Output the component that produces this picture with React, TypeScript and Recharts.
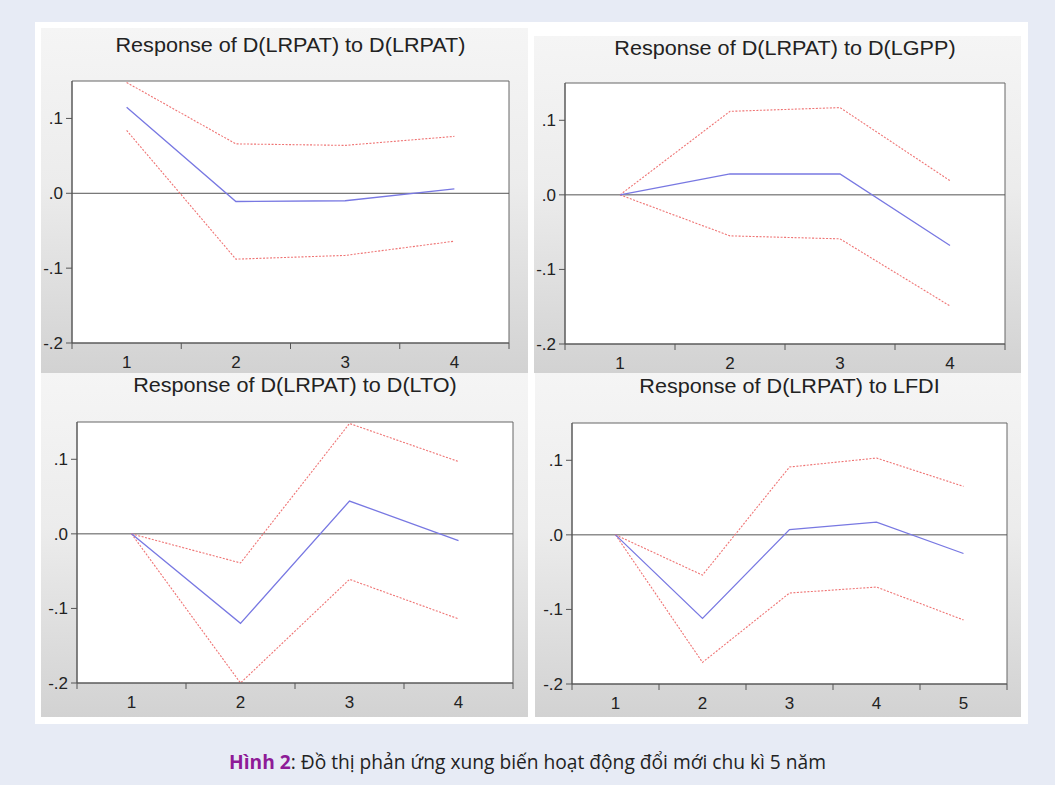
import React from 'react';
import { LineChart, Line, XAxis, YAxis, ReferenceLine, ReferenceArea, CartesianGrid } from 'recharts';

const FONT = '"Liberation Sans", Arial, sans-serif';

// periods on the x axis
const steps4 = [1, 2, 3, 4];
const steps5 = [1, 2, 3, 4, 5];

// y axis ticks as EViews prints them
const yTicks = [-0.2, -0.1, 0, 0.1];
const yTickLabels = ['-.2', '-.1', '.0', '.1'];

// Response of D(LRPAT) to D(LRPAT)
const lrpatResp = [0.115, -0.011, -0.010, 0.006];
const lrpatUpper = [0.148, 0.066, 0.064, 0.076];
const lrpatLower = [0.084, -0.088, -0.083, -0.064];

// Response of D(LRPAT) to D(LGPP)
const lgppResp = [0, 0.028, 0.028, -0.068];
const lgppUpper = [0, 0.112, 0.117, 0.019];
const lgppLower = [0, -0.055, -0.059, -0.149];

// Response of D(LRPAT) to D(LTO)
const ltoResp = [0, -0.12, 0.044, -0.009];
const ltoUpper = [0, -0.039, 0.148, 0.097];
const ltoLower = [0, -0.2, -0.061, -0.114];

// Response of D(LRPAT) to LFDI
const lfdiResp = [0, -0.112, 0.007, 0.017, -0.025];
const lfdiUpper = [0, -0.054, 0.091, 0.103, 0.065];
const lfdiLower = [0, -0.171, -0.078, -0.070, -0.114];

function XTick(props: any) {
  const { x, y, payload } = props;
  const v = payload.value;
  if (Number.isInteger(v)) {
    return (
      <text x={x} y={y + 19} textAnchor="middle" fontSize={17} fill="#222" fontFamily={FONT}>
        {v}
      </text>
    );
  }
  // boundary tick between periods
  return <line x1={x} x2={x} y1={y - 6} y2={y} stroke="#555" />;
}

interface PanelProps {
  title: string;
  steps: number[];
  resp: number[];
  upper: number[];
  lower: number[];
  left: number;
  top: number;
  width: number;
  height: number;
  plotLeft: number;
  plotTop: number;
  plotRight: number;
  plotBottom: number;
  titleY: number;
}

function Panel(p: PanelProps) {
  const data = p.steps.map((s, i) => ({ step: s, resp: p.resp[i], upper: p.upper[i], lower: p.lower[i] }));
  const lo = p.steps[0] - 0.5;
  const hi = p.steps[p.steps.length - 1] + 0.5;
  const xTicks = [lo, ...p.steps.flatMap(s => [s, s + 0.5])];

  return (
    <div
      style={{
        position: 'absolute',
        left: p.left,
        top: p.top,
        width: p.width,
        height: p.height,
        background: 'linear-gradient(to bottom, #f5f5f5 0%, #ececec 45%, #d2d2d2 100%)',
      }}
    >
      <div
        style={{
          position: 'absolute',
          left: p.plotLeft,
          width: p.width - p.plotLeft - p.plotRight,
          top: p.titleY - 12,
          lineHeight: '24px',
          textAlign: 'center',
          fontFamily: FONT,
          fontSize: 19.3,
          color: '#222',
          whiteSpace: 'nowrap',
          transform: 'scaleX(1.12)',
        }}
      >
        {p.title}
      </div>
      <LineChart
        width={p.width}
        height={p.height}
        data={data}
        margin={{ top: p.plotTop, right: p.plotRight, left: 0, bottom: 0 }}
      >
        <CartesianGrid horizontal={false} vertical={false} fill="#fff" />
        <XAxis
          dataKey="step"
          type="number"
          domain={[lo, hi]}
          ticks={xTicks}
          interval={0}
          tick={<XTick />}
          tickLine={false}
          tickSize={6}
          tickMargin={0}
          axisLine={{ stroke: '#555' }}
          height={p.plotBottom}
        />
        <YAxis
          type="number"
          domain={[-0.2, 0.15]}
          ticks={yTicks}
          interval={0}
          width={p.plotLeft}
          tickSize={6}
          tickMargin={3}
          tickFormatter={(v: number) => yTickLabels[yTicks.indexOf(v)] ?? ''}
          tick={{ fontSize: 17, fill: '#222', fontFamily: FONT }}
          tickLine={{ stroke: '#555' }}
          axisLine={{ stroke: '#555' }}
        />
        <ReferenceArea x1={lo} x2={hi} y1={-0.2} y2={0.15} fill="none" stroke="#666" />
        <ReferenceLine y={0} stroke="#555" />
        <Line dataKey="upper" stroke="#ef7474" strokeWidth={1.1} strokeDasharray="2 1.5" dot={false} isAnimationActive={false} />
        <Line dataKey="lower" stroke="#ef7474" strokeWidth={1.1} strokeDasharray="2 1.5" dot={false} isAnimationActive={false} />
        <Line dataKey="resp" stroke="#7878e2" strokeWidth={1.3} dot={false} isAnimationActive={false} />
      </LineChart>
    </div>
  );
}

export default function App() {
  return (
    <div style={{ position: 'absolute', left: 0, top: 0, width: 1055, height: 785, background: '#e7ebf5' }}>
      <div style={{ position: 'absolute', left: 35, top: 22, width: 993, height: 702, background: '#fff' }} />
      <Panel
        title="Response of D(LRPAT) to D(LRPAT)"
        steps={steps4}
        resp={lrpatResp}
        upper={lrpatUpper}
        lower={lrpatLower}
        left={41}
        top={28}
        width={487}
        height={345}
        plotLeft={31}
        plotTop={53}
        plotRight={19}
        plotBottom={30}
        titleY={18}
      />
      <Panel
        title="Response of D(LRPAT) to D(LGPP)"
        steps={steps4}
        resp={lgppResp}
        upper={lgppUpper}
        lower={lgppLower}
        left={534}
        top={36}
        width={487}
        height={337}
        plotLeft={31}
        plotTop={47}
        plotRight={16}
        plotBottom={29}
        titleY={13}
      />
      <Panel
        title="Response of D(LRPAT) to D(LTO)"
        steps={steps4}
        resp={ltoResp}
        upper={ltoUpper}
        lower={ltoLower}
        left={41}
        top={373}
        width={487}
        height={344}
        plotLeft={36}
        plotTop={49}
        plotRight={15}
        plotBottom={34}
        titleY={13}
      />
      <Panel
        title="Response of D(LRPAT) to LFDI"
        steps={steps5}
        resp={lfdiResp}
        upper={lfdiUpper}
        lower={lfdiLower}
        left={535}
        top={373}
        width={486}
        height={344}
        plotLeft={37}
        plotTop={50}
        plotRight={14}
        plotBottom={33}
        titleY={14}
      />
      <div
        style={{
          position: 'absolute',
          left: 0,
          width: 1055,
          top: 749,
          textAlign: 'center',
          fontFamily: '"Open Sans", "Noto Sans", sans-serif',
          fontSize: 19.2,
          lineHeight: '26px',
          color: '#222',
        }}
      >
        <span style={{ color: '#8e1b97', fontWeight: 700 }}>Hình 2</span>: Đồ thị phản ứng xung biến hoạt động đổi mới chu kì 5 năm
      </div>
    </div>
  );
}
